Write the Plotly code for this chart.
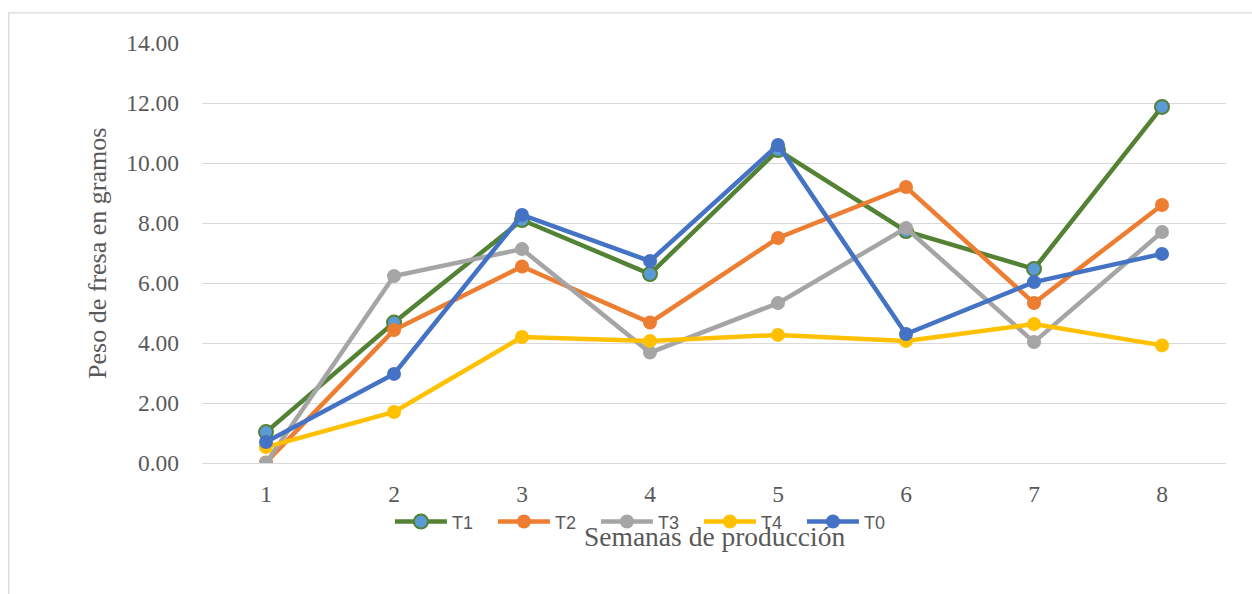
import plotly.graph_objects as go

weeks = ["1", "2", "3", "4", "5", "6", "7", "8"]
t1 = [1.03, 4.68, 8.10, 6.30, 10.43, 7.73, 6.47, 11.87]
t2 = [0.02, 4.43, 6.55, 4.68, 7.50, 9.20, 5.33, 8.60]
t3 = [0.00, 6.23, 7.13, 3.68, 5.33, 7.83, 4.03, 7.70]
t4 = [0.53, 1.70, 4.20, 4.07, 4.27, 4.07, 4.63, 3.92]
t0 = [0.70, 2.97, 8.27, 6.73, 10.60, 4.30, 6.03, 6.97]
y_ticks = [0, 2, 4, 6, 8, 10, 12, 14]

series = [
    ("T1", t1, "#548235", "#5B9BD5"),
    ("T2", t2, "#ED7D31", "#ED7D31"),
    ("T3", t3, "#A5A5A5", "#A5A5A5"),
    ("T4", t4, "#FFC000", "#FFC000"),
    ("T0", t0, "#4472C4", "#4472C4"),
]

fig = go.Figure()
for name, vals, lc, mc in series:
    fig.add_trace(go.Scatter(
        x=weeks, y=vals, name=name, mode="lines+markers",
        line=dict(color=lc, width=4.5),
        marker=dict(size=14, color=mc, line=dict(color=lc, width=2 if name == "T1" else 0)),
    ))

serif = "Liberation Serif, Times New Roman, serif"
fig.update_layout(
    width=1252, height=594,
    margin=dict(l=202, r=26, t=43, b=131),
    paper_bgcolor="white", plot_bgcolor="white",
    showlegend=True,
    legend=dict(orientation="h", x=0.435, y=-0.14, xanchor="center", yanchor="middle",
                font=dict(family="Liberation Sans, Arial", size=18, color="#595959"),
                bgcolor="rgba(0,0,0,0)", itemwidth=52, entrywidth=36, tracegroupgap=0),
    xaxis=dict(type="category", range=[-0.5, 7.5], showgrid=False, zeroline=False,
               showline=False, ticks="",
               tickfont=dict(family=serif, size=23.5, color="#595959"),
               ticklabelstandoff=14),
    yaxis=dict(range=[0, 14], tickvals=y_ticks, tickformat=".2f",
               showgrid=True, gridcolor="#D9D9D9", gridwidth=1.3,
               zeroline=True, zerolinecolor="#D9D9D9", zerolinewidth=1.3,
               showline=False, ticks="",
               tickfont=dict(family=serif, size=23.5, color="#595959"),
               ticklabelstandoff=22),
    annotations=[
        dict(text="Semanas de producción", xref="paper", yref="paper",
             x=0.5, y=-0.176, xanchor="center", yanchor="middle", showarrow=False,
             font=dict(family=serif, size=27.5, color="#595959")),
        dict(text="Peso de fresa en gramos", xref="paper", yref="paper",
             x=-0.1026, y=0.5, xanchor="center", yanchor="middle", showarrow=False,
             textangle=-90,
             font=dict(family=serif, size=26, color="#595959")),
    ],
    shapes=[
        dict(type="rect", xref="paper", yref="paper",
             x0=-0.1887, x1=1.03, y0=-0.35, y1=1.0715,
             line=dict(color="#D9D9D9", width=1.3), fillcolor="rgba(0,0,0,0)", layer="below"),
    ],
)

fig.write_html("out.html")
